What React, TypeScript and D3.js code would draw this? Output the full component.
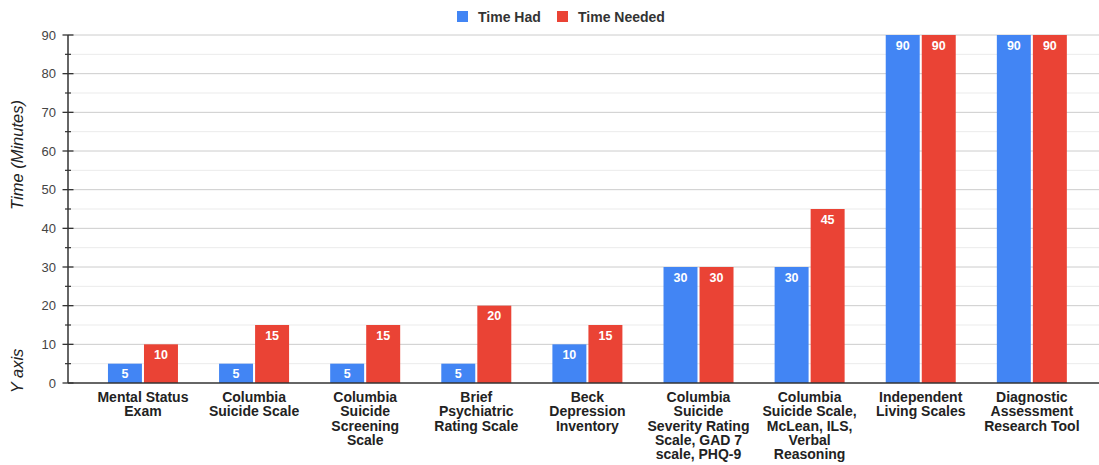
import React from "react";
import * as d3 from "d3";

const categories = [
  ["Mental Status", "Exam"],
  ["Columbia", "Suicide Scale"],
  ["Columbia", "Suicide", "Screening", "Scale"],
  ["Brief", "Psychiatric", "Rating Scale"],
  ["Beck", "Depression", "Inventory"],
  ["Columbia", "Suicide", "Severity Rating", "Scale, GAD 7", "scale, PHQ-9"],
  ["Columbia", "Suicide Scale,", "McLean, ILS,", "Verbal", "Reasoning"],
  ["Independent", "Living Scales"],
  ["Diagnostic", "Assessment", "Research Tool"],
];
const seriesNames = ["Time Had", "Time Needed"];
const timeHad = [5, 5, 5, 5, 10, 30, 30, 90, 90];
const timeNeeded = [10, 15, 15, 20, 15, 30, 45, 90, 90];
const seriesColors = ["#4285F4", "#EA4335"];
const majorTicks = [0, 10, 20, 30, 40, 50, 60, 70, 80, 90];
const minorTicks = [5, 15, 25, 35, 45, 55, 65, 75, 85];

const W = 1099;
const H = 465;
const FONT = "'Liberation Sans', Arial, sans-serif";

export default function App() {
  const axisX = 68;
  const rightX = 1099;
  const y = d3.scaleLinear().domain([0, 90]).range([383, 35]);
  const keys = categories.map((c) => c.join(" "));
  const x0 = d3.scaleBand<string>().domain(keys).range([87.4, 1087.4]).padding(0);
  const groupW = 70;
  const x1 = d3.scaleBand<string>().domain(seriesNames).range([0, groupW]).paddingInner(0.057);
  const values = [timeHad, timeNeeded];

  return (
    <svg width={W} height={H} style={{ display: "block", position: "absolute", left: 0, top: 0 }} fontFamily={FONT}>
      <rect width={W} height={H} fill="#fff" />
      {/* legend */}
      {seriesNames.map((s, i) => {
        const lx = [457, 557][i];
        return (
          <g key={s}>
            <rect x={lx} y={11} width={11} height={11} fill={seriesColors[i]} />
            <text x={lx + 21} y={16.5} dominantBaseline="central" fontSize={14} fontWeight="bold" fill="#333">
              {s}
            </text>
          </g>
        );
      })}
      {/* grid */}
      {minorTicks.map((t) => (
        <line key={"m" + t} x1={axisX} x2={rightX} y1={y(t)} y2={y(t)} stroke="#ebebeb" strokeWidth={1} />
      ))}
      {majorTicks.filter((t) => t !== 0).map((t) => (
        <line key={"g" + t} x1={axisX} x2={rightX} y1={y(t)} y2={y(t)} stroke="#cccccc" strokeWidth={1} />
      ))}
      {/* bars */}
      {keys.map((k, ci) => {
        const gx = (x0(k) as number) + x0.bandwidth() / 2 - groupW / 2;
        return seriesNames.map((s, si) => {
          const v = values[si][ci];
          const bx = gx + (x1(s) as number);
          const by = y(v);
          return (
            <g key={k + s}>
              <rect x={bx} y={by} width={x1.bandwidth()} height={y(0) - by} fill={seriesColors[si]} />
              <text
                x={bx + x1.bandwidth() / 2}
                y={by + 10.5}
                textAnchor="middle"
                dominantBaseline="central"
                fontSize={12.5}
                fontWeight="bold"
                fill="#fff"
              >
                {v}
              </text>
            </g>
          );
        });
      })}
      {/* axes */}
      <line x1={axisX} x2={rightX} y1={y(0)} y2={y(0)} stroke="#333" strokeWidth={1.5} />
      <line x1={axisX} x2={axisX} y1={y(90)} y2={y(0)} stroke="#333" strokeWidth={1.5} />
      {majorTicks.map((t) => (
        <g key={"t" + t}>
          <line x1={axisX - 5.5} x2={axisX + 5.5} y1={y(t)} y2={y(t)} stroke="#333" strokeWidth={1.3} />
          <text x={56} y={y(t)} textAnchor="end" dominantBaseline="central" fontSize={13} fill="#444">
            {t}
          </text>
        </g>
      ))}
      {minorTicks.map((t) => (
        <line key={"mt" + t} x1={axisX - 3} x2={axisX + 3} y1={y(t)} y2={y(t)} stroke="#333" strokeWidth={1.2} />
      ))}
      {/* category labels */}
      {categories.map((lines, ci) => {
        const cx = (x0(keys[ci]) as number) + x0.bandwidth() / 2;
        return (
          <text key={"c" + ci} textAnchor="middle" fontSize={14} fontWeight="bold" fill="#222">
            {lines.map((ln, li) => (
              <tspan key={li} x={cx} y={397 + li * 14.3} dominantBaseline="central">
                {ln}
              </tspan>
            ))}
          </text>
        );
      })}
      {/* y axis titles */}
      <text
        transform={`translate(17,155) rotate(-90)`}
        textAnchor="middle"
        dominantBaseline="central"
        fontSize={16.5}
        fontStyle="italic"
        fill="#222"
      >
        Time (Minutes)
      </text>
      <text
        transform={`translate(17,371) rotate(-90)`}
        textAnchor="middle"
        dominantBaseline="central"
        fontSize={16.5}
        fontStyle="italic"
        fill="#222"
      >
        Y axis
      </text>
    </svg>
  );
}
